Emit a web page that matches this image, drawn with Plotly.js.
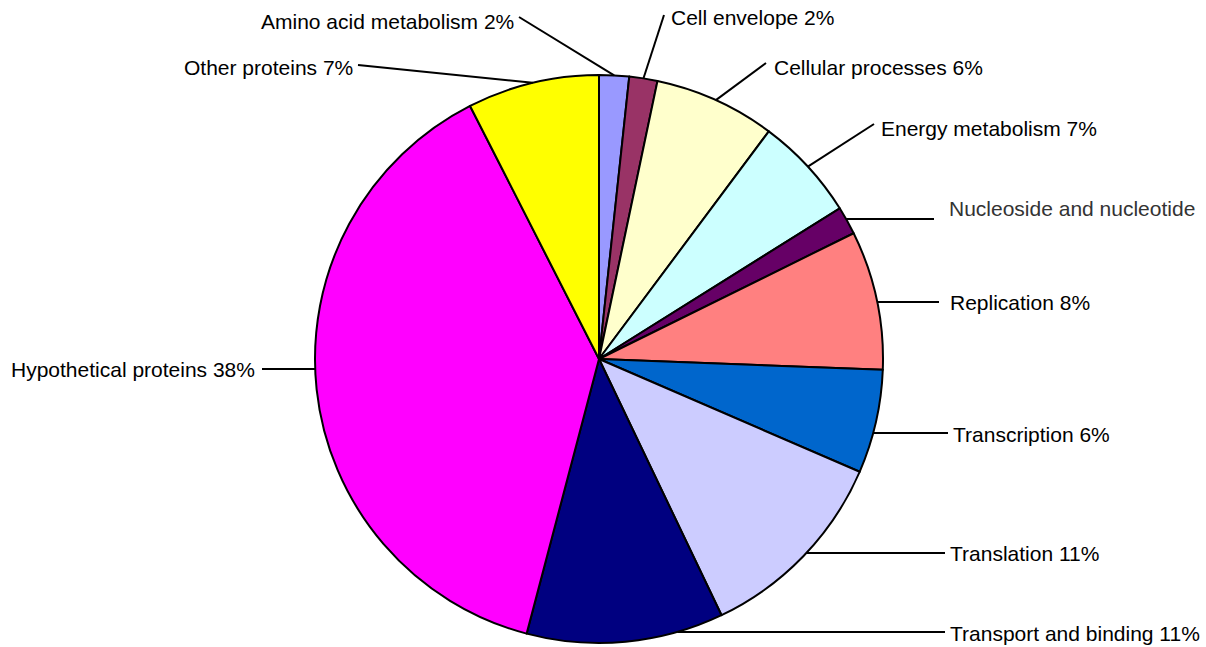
<!DOCTYPE html>
<html>
<head>
<meta charset="utf-8">
<script src="https://cdn.plot.ly/plotly-3.0.1.min.js"></script>
<style>html,body{margin:0;padding:0;background:#fff;}#chart{width:1206px;height:647px;}</style>
</head>
<body>
<div id="chart"></div>
<script>
// ---- data ----
const categories = ['Amino acid metabolism','Cell envelope','Cellular processes','Energy metabolism','Nucleoside and nucleotide','Replication','Transcription','Translation','Transport and binding','Hypothetical proteins','Other proteins'];
const shares = [1.7, 1.6, 6.9, 5.9, 1.6, 7.9, 5.9, 11.4, 11.2, 38.4, 7.5];
const labelTexts = ['Amino acid metabolism 2%','Cell envelope 2%','Cellular processes 6%','Energy metabolism 7%','Nucleoside and nucleotide','Replication 8%','Transcription 6%','Translation 11%','Transport and binding 11%','Hypothetical proteins 38%','Other proteins 7%'];
const sliceColors = ['#9999FF','#993366','#FFFFCC','#CCFFFF','#660066','#FF8080','#0066CC','#CCCCFF','#000080','#FF00FF','#FFFF00'];

// ---- layout (positions in page pixels) ----
const W = 1206, H = 647;
const CX = 599, CY = 359, R = 284;
// side: where text sits relative to pie; tx,ty: text anchor; lx,ly: leader start; mode: 'mid' -> leader to slice middle, 'h' -> horizontal leader
const labelLayout = [
  {side:'left',  tx:516, ty:22,  lx:519, ly:17,  mode:'mid'},
  {side:'right', tx:669, ty:18,  lx:664, ly:15,  mode:'mid'},
  {side:'right', tx:772, ty:67,  lx:766, ly:63,  mode:'mid'},
  {side:'right', tx:879, ty:128, lx:874, ly:124, mode:'mid'},
  {side:'right', tx:947, ty:208, lx:934, ly:219, mode:'h'},
  {side:'right', tx:948, ty:302, lx:939, ly:302, mode:'h'},
  {side:'right', tx:951, ty:434, lx:948, ly:433, mode:'h'},
  {side:'right', tx:948, ty:553, lx:945, ly:553, mode:'h'},
  {side:'right', tx:948, ty:633, lx:945, ly:632, mode:'h'},
  {side:'left',  tx:257, ty:369, lx:262, ly:369, mode:'h'},
  {side:'left',  tx:355, ty:67,  lx:358, ly:65,  mode:'mid'}
];

const total = shares.reduce((a,b)=>a+b,0);
let cum = 0;
const midAngles = shares.map(v => { const a = (cum + v/2)/total*2*Math.PI; cum += v; return a; });

const px2x = p => p / W;
const px2y = p => 1 - p / H;

const annotations = [];
const shapes = [];
labelLayout.forEach((L, i) => {
  annotations.push({
    x: px2x(L.tx), y: px2y(L.ty), xref:'paper', yref:'paper',
    xanchor: L.side === 'right' ? 'left' : 'right', yanchor:'middle',
    text: labelTexts[i], showarrow:false,
    font:{family:'Liberation Sans, Arial, sans-serif', size:21, color: i===4 ? '#333' : '#000'}
  });
  let hx, hy;
  if (L.mode === 'h') {
    const dy = CY - L.ly;
    const dx = Math.sqrt(Math.max(R*R - dy*dy, 0));
    hx = L.side === 'right' ? CX + dx : CX - dx;
    hy = L.ly;
  } else {
    hx = CX + R*Math.sin(midAngles[i]);
    hy = CY - R*Math.cos(midAngles[i]);
  }
  shapes.push({type:'line', xref:'paper', yref:'paper',
    x0: px2x(L.lx), y0: px2y(L.ly), x1: px2x(hx), y1: px2y(hy),
    line:{color:'#000', width:2}});
});

const trace = {
  type:'pie',
  labels: categories,
  values: shares,
  sort:false,
  direction:'clockwise',
  rotation:0,
  textinfo:'none',
  hoverinfo:'none',
  showlegend:false,
  marker:{colors: sliceColors, line:{color:'#000', width:2}},
  domain:{x:[(CX-R)/W, (CX+R)/W], y:[(H-CY-R)/H, (H-CY+R)/H]}
};

const layout = {
  width:W, height:H,
  margin:{l:0,r:0,t:0,b:0},
  paper_bgcolor:'#fff', plot_bgcolor:'#fff',
  showlegend:false,
  annotations, shapes
};
Plotly.newPlot('chart', [trace], layout, {displayModeBar:false, staticPlot:true});
</script>
</body>
</html>
